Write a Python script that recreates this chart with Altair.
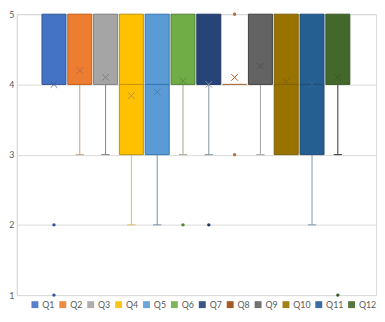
import altair as alt
import pandas as pd

questions = ["Q1", "Q2", "Q3", "Q4", "Q5", "Q6", "Q7", "Q8", "Q9", "Q10", "Q11", "Q12"]
whisker_low = [4, 3, 3, 2, 2, 3, 3, 4, 3, 3, 2, 3]
quart1 = [4, 4, 4, 3, 3, 4, 4, 4, 4, 3, 3, 4]
median = [4, 4, 4, 4, 4, 4, 4, 4, 4, 4, 4, 4]
quart3 = [5, 5, 5, 5, 5, 5, 5, 4, 5, 5, 5, 5]
means = [4.0, 4.2, 4.1, 3.84, 3.89, 4.05, 4.0, 4.1, 4.26, 4.04, 4.0, 4.1]
outlier_q = ["Q1", "Q1", "Q6", "Q7", "Q8", "Q8", "Q12"]
outlier_v = [2, 1, 2, 2, 5, 3, 1]

fills = ["#4472C4", "#ED7D31", "#A5A5A5", "#FFC000", "#5B9BD5", "#70AD47",
         "#264478", "#9E480E", "#636363", "#997300", "#255E91", "#43682B"]
strokes = ["#2F5597", "#C55A11", "#7F7F7F", "#BF9000", "#2E75B6", "#548235",
           "#1F3864", "#B07040", "#404040", "#7F6000", "#1F4E79", "#385723"]
whisk = ["#4472C4", "#C8A080", "#808080", "#D8C060", "#7090B0", "#A0A890",
         "#8090A0", "#9E480E", "#A0A0A0", "#997300", "#8098A8", "#303030"]
meanc = ["#3A5FA0", "#B86A40", "#7A7A7A", "#B09040", "#4A7AAA", "#5A8A40",
         "#8899AA", "#9E480E", "#505050", "#7A6020", "#3A6A95", "#3A5A28"]

df = pd.DataFrame({
    "q": questions, "i": list(range(len(questions))), "lo": whisker_low, "q1": quart1,
    "med": median, "q3": quart3, "mean": means, "fill": fills, "stroke": strokes,
    "whisk": whisk, "meanc": meanc,
})
out = pd.DataFrame({"q": outlier_q, "v": outlier_v})
out = out.merge(df[["q", "i", "stroke"]], on="q")

xscale = alt.Scale(domain=[-1.44, 12.48], nice=False, zero=False)
yscale = alt.Scale(domain=[1, 5], nice=False, zero=False)
yaxis = alt.Axis(values=[1, 2, 3, 4, 5], format="d", title=None,
                 grid=True, gridColor="#D9D9D9", domainColor="#D9D9D9",
                 ticks=False, labelColor="#595959", labelFontSize=9,
                 labelPadding=3, labelFont="Lato")

base = alt.Chart(df).transform_calculate(
    xl="datum.i - 0.465", xr="datum.i + 0.465",
    cl="datum.i - 0.16", cr="datum.i + 0.16",
)

whiskers = base.transform_filter("datum.lo < datum.q1").mark_rule(strokeWidth=1).encode(
    x=alt.X("i:Q", scale=xscale, axis=None),
    y=alt.Y("lo:Q", scale=yscale, axis=yaxis),
    y2="q1:Q",
    color=alt.Color("whisk:N", scale=None),
)
caps = base.transform_filter("datum.lo < datum.q1").mark_rule(strokeWidth=1).encode(
    x=alt.X("cl:Q", scale=xscale, axis=None), x2="cr:Q",
    y=alt.Y("lo:Q", scale=yscale, axis=yaxis),
    color=alt.Color("whisk:N", scale=None),
)
boxes = base.mark_bar(strokeWidth=1).encode(
    x=alt.X("xl:Q", scale=xscale, axis=None), x2="xr:Q",
    y=alt.Y("q1:Q", scale=yscale, axis=yaxis),
    y2="q3:Q",
    color=alt.Color("q:N", scale=alt.Scale(domain=questions, range=fills), sort=questions,
                    legend=alt.Legend(title=None, orient="none", legendX=14, legendY=292,
                                      direction="horizontal",
                                      columns=12, symbolType="square", symbolSize=50,
                                      symbolStrokeWidth=0, labelFontSize=9,
                                      labelColor="#595959", labelFont="Lato",
                                      columnPadding=3.5, labelOffset=3)),
    stroke=alt.Stroke("stroke:N", scale=None),
)
meds = base.transform_filter("datum.q1 < datum.med && datum.med < datum.q3").mark_rule(
    strokeWidth=1).encode(
    x=alt.X("xl:Q", scale=xscale, axis=None), x2="xr:Q",
    y=alt.Y("med:Q", scale=yscale, axis=yaxis),
    color=alt.Color("stroke:N", scale=None),
)
meanpts = base.mark_point(shape="M-1,-1L1,1M-1,1L1,-1", size=45, filled=False,
                          strokeWidth=1, opacity=0.9).encode(
    x=alt.X("i:Q", scale=xscale, axis=None),
    y=alt.Y("mean:Q", scale=yscale, axis=yaxis),
    color=alt.Color("meanc:N", scale=None),
)
outs = alt.Chart(out).mark_circle(size=12, opacity=1).encode(
    x=alt.X("i:Q", scale=xscale, axis=None),
    y=alt.Y("v:Q", scale=yscale, axis=yaxis),
    color=alt.Color("stroke:N", scale=None),
)

chart = alt.layer(whiskers, caps, boxes, meds, meanpts, outs).properties(
    width=367, height=287,
    autosize=alt.AutoSizeParams(type="none"),
    padding={"left": 9, "top": 3, "right": 1, "bottom": 16},
).configure_view(stroke=None).configure(font="Lato")

chart.save("out.html", embed_options={"renderer": "svg", "actions": False})
